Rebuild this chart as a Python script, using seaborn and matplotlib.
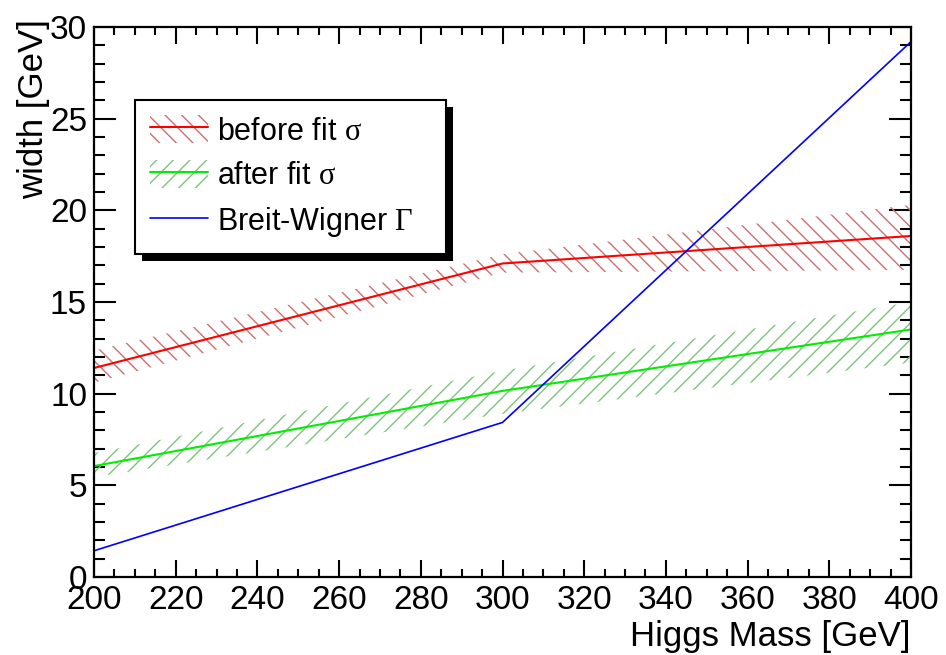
import pandas as pd
import seaborn as sns
import matplotlib.pyplot as plt
from matplotlib.patches import Patch
from matplotlib.lines import Line2D
from matplotlib.ticker import MultipleLocator
from matplotlib import patheffects as pe

# values
mass = [200, 300, 400]
before_fit = [11.4, 17.1, 18.6]
before_lo = [10.6, 16.6, 16.75]
before_hi = [12.35, 17.6, 20.3]
after_fit = [6.05, 10.15, 13.5]
after_lo = [5.45, 8.9, 11.7]
after_hi = [6.75, 11.25, 15.0]
bw_width = [1.43, 8.43, 29.2]
labels = ['before fit $\\mathrm{\\sigma}$', 'after fit $\\mathrm{\\sigma}$',
          'Breit-Wigner $\\mathrm{\\Gamma}$']

sns.set_style('ticks')
plt.rcParams['font.family'] = ['Liberation Sans', 'DejaVu Sans']
plt.rcParams['mathtext.fontset'] = 'custom'
plt.rcParams['mathtext.rm'] = 'Liberation Serif'
plt.rcParams['hatch.linewidth'] = 1.0

red_hatch = '#cc7070'
green_hatch = '#7cc47c'

df = pd.DataFrame({'mass': mass, 'before': before_fit, 'after': after_fit, 'bw': bw_width})

fig = plt.figure(figsize=(9.46, 6.55), dpi=100)
ax = fig.add_axes([0.0994, 0.1191, 0.8636, 0.8397])

# uncertainty bands
ax.fill_between(mass, before_lo, before_hi, facecolor='none', edgecolor=red_hatch,
                hatch='\\\\', linewidth=0)
ax.fill_between(mass, after_lo, after_hi, facecolor='none', edgecolor=green_hatch,
                hatch='//', linewidth=0)

# central lines
sns.lineplot(data=df, x='mass', y='before', color='#ff0000', lw=1.5, ax=ax, legend=False)
sns.lineplot(data=df, x='mass', y='after', color='#00ee00', lw=1.5, ax=ax, legend=False)
sns.lineplot(data=df, x='mass', y='bw', color='#0000ff', lw=1.2, ax=ax, legend=False)

ax.set_xlim(200, 400)
ax.set_ylim(0, 30)
ax.xaxis.set_major_locator(MultipleLocator(20))
ax.xaxis.set_minor_locator(MultipleLocator(5))
ax.yaxis.set_major_locator(MultipleLocator(5))
ax.yaxis.set_minor_locator(MultipleLocator(1))

ax.tick_params(which='both', direction='in', top=True, right=True, width=1.5,
               labelsize=24, colors='black')
ax.tick_params(axis='x', which='major', length=12, pad=6)
ax.tick_params(axis='x', which='minor', length=6)
ax.tick_params(axis='y', which='major', length=16, pad=5)
ax.tick_params(axis='y', which='minor', length=8)
for s in ax.spines.values():
    s.set_linewidth(1.6)
    s.set_color('black')

ax.set_xlabel('Higgs Mass [GeV]', loc='right', fontsize=25, labelpad=3, color='black')
ax.set_ylabel('width [GeV]', loc='top', fontsize=25, labelpad=0, color='black')
ax.yaxis.label.set_y(1.015)

# legend
h1 = (Patch(facecolor='white', edgecolor=red_hatch, hatch='\\\\', lw=0),
      Line2D([], [], color='#ff0000', lw=1.5))
h2 = (Patch(facecolor='white', edgecolor=green_hatch, hatch='//', lw=0),
      Line2D([], [], color='#00ee00', lw=1.5))
h3 = Line2D([], [], color='#0000ff', lw=1.2)
leg = ax.legend([h1, h2, h3], labels, loc='upper left',
                bbox_to_anchor=(0.050, 0.595, 0.381, 0.272), mode='expand',
                borderaxespad=0, fontsize=22, frameon=True, fancybox=False,
                edgecolor='black', framealpha=1, borderpad=0.5, handlelength=1.9,
                handleheight=1.0, handletextpad=0.3, labelspacing=0.45,
                labelcolor='black')
leg.get_frame().set_linewidth(1.5)
leg.get_frame().set_path_effects([pe.SimplePatchShadow(offset=(5, -5), shadow_rgbFace='black', alpha=1),
                                  pe.Normal()])

fig.savefig('out.png', dpi=100)
